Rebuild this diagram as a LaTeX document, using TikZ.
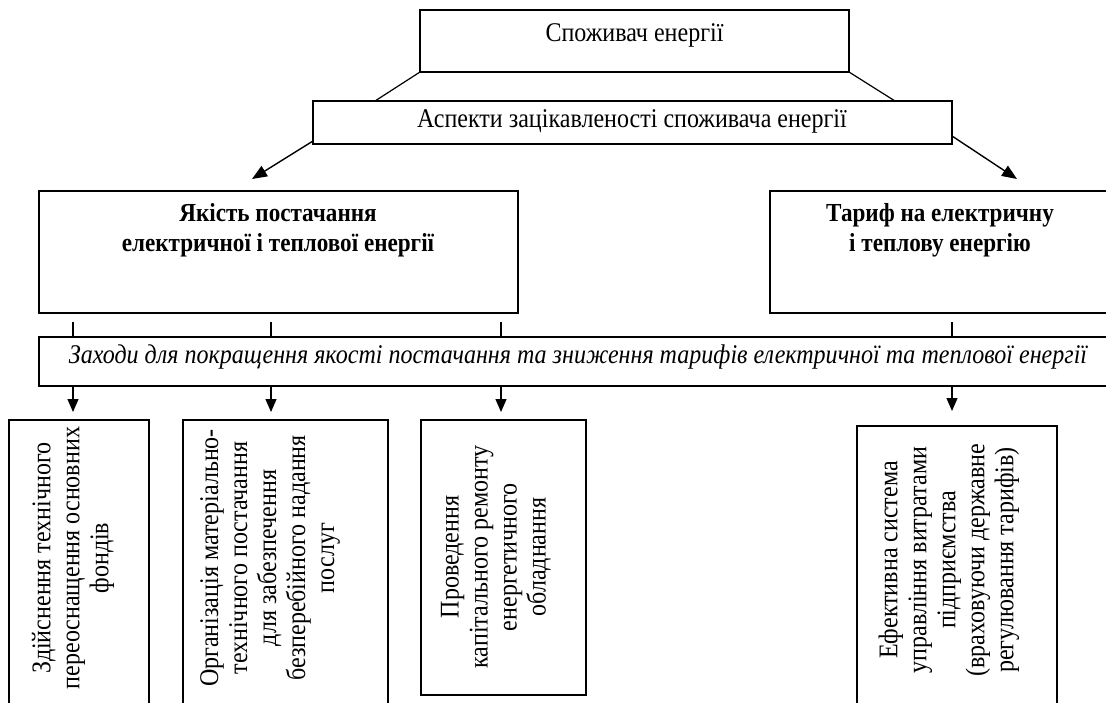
\documentclass[tikz,border=0pt]{standalone}
\usepackage{fontspec}
\setmainfont{Liberation Serif}[FakeStretch=0.89]
\usetikzlibrary{arrows.meta,calc}
\begin{document}
\begin{tikzpicture}[x=1pt,y=-1pt,
  box/.style={draw,line width=1.2pt,inner sep=0pt,outer sep=0pt,anchor=north west},
  txt/.style={inner sep=0pt,font=\fontsize{27}{29}\selectfont,align=center},
  ttl/.style={inner sep=0pt,font=\fontsize{26}{30}\selectfont\bfseries,align=center},
  itl/.style={inner sep=0pt,font=\fontsize{27}{29}\selectfont\itshape,align=center},
  conn/.style={line width=1.2pt},
  arr/.style={line width=1.2pt,-{Triangle[length=13pt,width=11pt]}},
  darr/.style={line width=1.4pt,-{Triangle[length=15pt,width=12pt]}}]
\useasboundingbox (0,0) rectangle (1106,702);
\clip (0,0) rectangle (1106,702);

% boxes
\node[box,minimum width=429pt,minimum height=62pt] (cons) at (420,10) {};
\node[txt] (consT) at (634.5,35) {Споживач енергії};
\node[box,minimum width=639pt,minimum height=43pt] (asp) at (313,101) {};
\node[txt] (aspT) at (632,121) {Аспекти зацікавленості споживача енергії};
\node[box,minimum width=479pt,minimum height=122pt] (qual) at (39,191) {};
\node[ttl] (qualT) at (278,230) {Якість постачання\\електричної і теплової енергії};
\node[box,minimum width=345pt,minimum height=122pt] (tar) at (770,191) {};
\node[ttl] (tarT) at (940,230) {Тариф на електричну\\і теплову енергію};
\node[box,minimum width=1076pt,minimum height=49pt] (meas) at (39,337) {};
\node[itl] (measT) at (578,357) {Заходи для покращення якості постачання та зниження тарифів електричної та теплової енергії};

\node[box,minimum width=140pt,minimum height=300pt] (b1) at (9,420) {};
\node[box,minimum width=205pt,minimum height=300pt] (b2) at (183,420) {};
\node[box,minimum width=165pt,minimum height=275pt] (b3) at (421,420) {};
\node[box,minimum width=200pt,minimum height=300pt] (b4) at (857,426) {};

\node[txt,rotate=90] (b1T) at (73,558) {Здійснення технічного\\переоснащення основних\\фондів};
\node[txt,rotate=90] (b2T) at (270,558) {Організація матеріально-\\технічного постачання\\для забезпечення\\безперебійного надання\\послуг};
\node[txt,rotate=90] (b3T) at (496,557) {Проведення\\капітального ремонту\\енергетичного\\обладнання};
\node[txt,rotate=90] (b4T) at (949,560) {Ефективна система\\управління витратами\\підприємства\\(враховуючи державне\\регулювання тарифів)};

% connectors top
\coordinate (a1) at (375,101);
\coordinate (a2) at (895,101);
\draw[conn] (cons.south west) -- (a1);
\draw[conn] (cons.south east) -- (a2);
\coordinate (qa) at (252,179);
\coordinate (ta) at (1017,179);
\draw[darr] ($(asp.south west)+(0,-3)$) -- (qa);
\draw[darr] ($(asp.south east)+(0,-8)$) -- (ta);

% ticks
\coordinate (t1) at (73,322);
\coordinate (t2) at (271,322);
\coordinate (t3) at (501,322);
\coordinate (t4) at (952,322);
\foreach \t in {t1,t2,t3,t4}{\draw[conn] (\t) -- (\t |- meas.north);}

% arrows down
\draw[arr,shorten >=8pt] (t1 |- meas.south) -- (t1 |- b1.north);
\draw[arr,shorten >=8pt] (t2 |- meas.south) -- (t2 |- b2.north);
\draw[arr,shorten >=8pt] (t3 |- meas.south) -- (t3 |- b3.north);
\draw[arr,shorten >=15pt] (t4 |- meas.south) -- (t4 |- b4.north);
\end{tikzpicture}
\end{document}
